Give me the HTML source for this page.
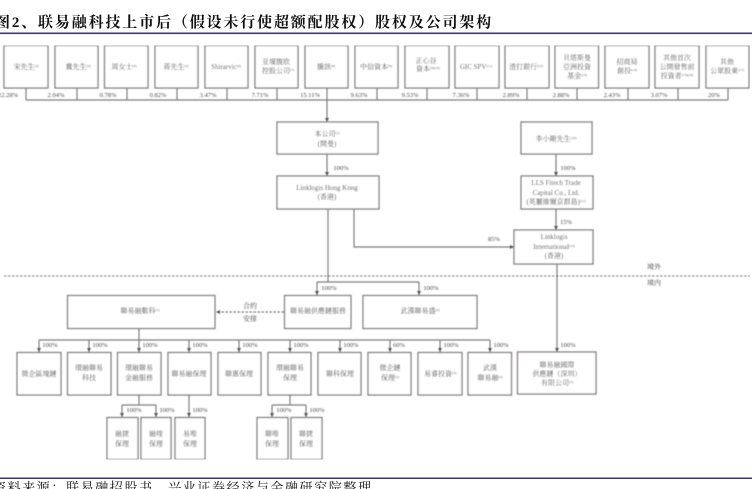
<!DOCTYPE html>
<html><head><meta charset="utf-8"><style>
html,body{margin:0;padding:0;background:#fff;width:752px;height:489px;overflow:hidden}
svg{display:block}
text{font-family:"Liberation Serif","Noto Serif CJK SC",serif;font-size:7px;fill:#4a4a4a;text-anchor:middle}
.p{font-size:6.5px;fill:#4a4a4a}
.s{font-size:3.5px}
.b rect{fill:#fff;stroke:#807c7c;stroke-width:1.3}
.l{fill:none;stroke:#807c7c;stroke-width:1.2}
.d{filter:url(#bl)}
</style></head><body>
<svg width="752" height="489" viewBox="0 0 752 489" xmlns="http://www.w3.org/2000/svg">
<defs>
<filter id="bl" x="0" y="0" width="100%" height="100%"><feGaussianBlur stdDeviation="0.45"/></filter>
<marker id="a" markerWidth="5" markerHeight="5" refX="4" refY="2" orient="auto" markerUnits="userSpaceOnUse"><path d="M0 0L4 2L0 4Z" fill="#555"/></marker>
</defs>
<text x="-5" y="27" style="font-size:15px;font-weight:700;fill:#111;text-anchor:start;letter-spacing:1.85px">图2、联易融科技上市后（假设未行使超额配股权）股权及公司架构</text>
<rect x="0" y="32.5" width="752" height="1.6" fill="#3a3a70"/>
<g class="d">
<path class="l" d="M26 88V100M77 88V100M127 88V100M177 88V100M227 88V100M277 88V100M327 88V100M377 88V100M427 88V100M477 88V100M527 88V100M577 88V100M628 88V100M678 88V100M728 88V100M26 100H728"/>
<path class="l" marker-end="url(#a)" d="M327 100V122"/>
<g class="b">
<rect x="4" y="45.5" width="44" height="42.5"/><rect x="55" y="45.5" width="43" height="42.5"/><rect x="104.500" y="45.5" width="43.500" height="42.500"/><rect x="155" y="45.500" width="43" height="42.500"/><rect x="205" y="45.500" width="43" height="42.500"/><rect x="255" y="45.500" width="43" height="42.500"/><rect x="305" y="45.500" width="43" height="42.500"/><rect x="355" y="45.500" width="43" height="42.500"/><rect x="405" y="45.500" width="44" height="42.500"/><rect x="455" y="45.500" width="44" height="42.500"/><rect x="505" y="45.500" width="44" height="42.500"/><rect x="555" y="45.500" width="43.500" height="42.500"/><rect x="605" y="45.500" width="44" height="42.500"/><rect x="655" y="45.500" width="44" height="42.500"/><rect x="706" y="45.500" width="43" height="42.500"/>
</g>
<text x="26" y="69">宋先生<tspan class="s" dy="-2">(2)</tspan></text>
<text x="78" y="69">冀先生<tspan class="s" dy="-2">(3)</tspan></text>
<text x="124" y="69">周女士<tspan class="s" dy="-2">(4)</tspan></text>
<text x="176" y="69">蒋先生<tspan class="s" dy="-2">(5)</tspan></text>
<text x="226" y="69">Shirarvic<tspan class="s" dy="-2">(6)</tspan></text>
<text x="276" y="64">亚堰腹欧</text><text x="278" y="73">控股公司<tspan class="s" dy="-2">(7)</tspan></text>
<text x="326" y="69">騰訊<tspan class="s" dy="-2">(8)</tspan></text>
<text x="376" y="69">中信資本<tspan class="s" dy="-2">(9)</tspan></text>
<text x="426" y="63">正心谷</text><text x="428" y="71">資本<tspan class="s" dy="-2">(9)(10)</tspan></text>
<text x="476" y="69">GIC SPV<tspan class="s" dy="-2">(11)</tspan></text>
<text x="526" y="69">渣打銀行<tspan class="s" dy="-2">(12)</tspan></text>
<text x="577" y="60">貝塔斯曼</text><text x="577" y="69">亞洲投資</text><text x="577" y="78">基金<tspan class="s" dy="-2">(13)</tspan></text>
<text x="627" y="64">招商局</text><text x="627" y="73">創投<tspan class="s" dy="-2">(14)</tspan></text>
<text x="677" y="60">其他首次</text><text x="677" y="69">公開發售前</text><text x="677" y="78">投資者<tspan class="s" dy="-2">(15)(16)</tspan></text>
<text x="727" y="64">其他</text><text x="727" y="73">公眾股東<tspan class="s" dy="-2">(17)</tspan></text>
<text class="p" x="8" y="97">22.28%</text><text class="p" x="56" y="97">2.04%</text><text class="p" x="108" y="97">0.78%</text><text class="p" x="158" y="97">0.82%</text><text class="p" x="208" y="97">3.47%</text><text class="p" x="260" y="97">7.71%</text><text class="p" x="310" y="97">15.11%</text><text class="p" x="359" y="97">9.63%</text><text class="p" x="410" y="97">9.53%</text><text class="p" x="461" y="97">7.36%</text><text class="p" x="511" y="97">2.89%</text><text class="p" x="561" y="97">2.88%</text><text class="p" x="612" y="97">2.43%</text><text class="p" x="659" y="97">3.07%</text><text class="p" x="714" y="97">20%</text>

<path class="l" marker-end="url(#a)" d="M327 154V176"/>
<path class="l" d="M328 209V282M317 282H419"/>
<path class="l" marker-end="url(#a)" d="M317 282V295"/>
<path class="l" marker-end="url(#a)" d="M419 282V295"/>
<path class="l" marker-end="url(#a)" d="M354 209V247H514"/>
<path class="l" marker-end="url(#a)" d="M556 154V176"/>
<path class="l" marker-end="url(#a)" d="M556 209V230"/>
<path class="l" marker-end="url(#a)" d="M557 264V352"/>
<g class="b">
<rect x="277" y="122" width="101" height="32"/><rect x="277" y="176" width="102" height="33"/><rect x="521" y="122" width="71" height="32"/><rect x="521" y="176" width="72" height="33"/><rect x="514" y="230" width="79" height="34"/>
</g>
<text x="327" y="136">本公司<tspan class="s" dy="-2">(1)</tspan></text><text x="327" y="146">(開曼)</text>
<text x="327" y="190">Linklogis Hong Kong</text><text x="327" y="199">(香港)</text>
<text x="556" y="141">李小剛先生<tspan class="s" dy="-2">(18)</tspan></text>
<text x="556" y="185">LLS Fitech Trade</text><text x="556" y="195">Capital Co., Ltd.</text><text x="556" y="204">(英屬維爾京群島)<tspan class="s" dy="-2">(11)</tspan></text>
<text x="554" y="239">Linklogis</text><text x="554" y="249">International<tspan class="s" dy="-2">(14)</tspan></text><text x="554" y="258">(香港)</text>
<text class="p" x="341" y="170">100%</text><text class="p" x="568" y="170">100%</text><text class="p" x="566" y="224">15%</text><text class="p" x="494" y="241">85%</text>
<text class="p" x="329" y="290">100%</text><text class="p" x="431" y="290">100%</text>
<line x1="4" y1="276" x2="750" y2="276" stroke="#555" stroke-width="0.8" stroke-dasharray="2.5 1.5"/>
<text x="654" y="269">境外</text><text x="654" y="285">境内</text>

<g class="b"><rect x="67.500" y="295.500" width="147.500" height="33"/><rect x="284.500" y="295.500" width="66.500" height="33"/><rect x="363" y="295.500" width="114" height="33"/></g>
<text x="140" y="313">聯易融數科<tspan class="s" dy="-2">(1)</tspan></text><text x="318" y="313">聯易融供應鏈服務</text><text x="420" y="313">武漢聯易盛<tspan class="s" dy="-2">(2)</tspan></text>
<path class="l" stroke-dasharray="2.5 1.5" marker-end="url(#a)" d="M284 312H216"/>
<text x="250" y="308">合約</text><text x="250" y="321">安排</text>
<path class="l" d="M139 328V340M39 340H490"/>
<path class="l" marker-end="url(#a)" d="M39 340V352"/><path class="l" marker-end="url(#a)" d="M89 340V352"/><path class="l" marker-end="url(#a)" d="M139 340V352"/><path class="l" marker-end="url(#a)" d="M189 340V352"/><path class="l" marker-end="url(#a)" d="M239 340V352"/><path class="l" marker-end="url(#a)" d="M290 340V352"/><path class="l" marker-end="url(#a)" d="M340 340V352"/><path class="l" marker-end="url(#a)" d="M390 340V352"/><path class="l" marker-end="url(#a)" d="M440 340V352"/><path class="l" marker-end="url(#a)" d="M490 340V352"/>
<g class="b">
<rect x="17" y="352.500" width="44" height="42.500"/><rect x="67.500" y="352.500" width="43.500" height="42.500"/><rect x="117.500" y="352.500" width="43.500" height="42.500"/><rect x="168" y="352.500" width="43" height="42.500"/><rect x="218" y="352.500" width="43" height="42.500"/><rect x="268" y="352.500" width="43" height="42.500"/><rect x="318" y="352.500" width="43" height="42.500"/><rect x="368" y="352.500" width="43" height="42.500"/><rect x="418" y="352.500" width="44" height="42.500"/><rect x="468" y="352.500" width="43.500" height="42.500"/><rect x="517.500" y="352" width="78.500" height="42"/>
</g>
<text x="39" y="376">微企區塊鏈</text>
<text x="89" y="370">環融聯易</text><text x="89" y="380">科技</text>
<text x="139" y="370">環融聯易</text><text x="139" y="380">金融服務</text>
<text x="189" y="376">聯易融保理</text>
<text x="239" y="376">聯惠保理</text>
<text x="290" y="370">環融聯易</text><text x="290" y="380">保理</text>
<text x="340" y="376">聯科保理</text>
<text x="390" y="370">微企鏈</text><text x="390" y="380">保理<tspan class="s" dy="-2">(2)</tspan></text>
<text x="440" y="376">易睿投資<tspan class="s" dy="-2">(3)</tspan></text>
<text x="490" y="370">武漢</text><text x="490" y="380">聯易融<tspan class="s" dy="-2">(4)</tspan></text>
<text x="557" y="367">聯易融國際</text><text x="557" y="376">供應鏈（深圳）</text><text x="557" y="385">有限公司<tspan class="s" dy="-2">(5)</tspan></text>
<text class="p" x="50" y="347">100%</text><text class="p" x="100" y="347">100%</text><text class="p" x="150" y="347">100%</text><text class="p" x="200" y="347">100%</text><text class="p" x="250" y="347">100%</text><text class="p" x="301" y="347">100%</text><text class="p" x="351" y="347">100%</text><text class="p" x="399" y="347">60%</text><text class="p" x="451" y="347">100%</text><text class="p" x="501" y="347">100%</text><text class="p" x="568" y="347">100%</text>

<path class="l" d="M139 395V405M122 405H156M290 395V405M272 405H306"/>
<path class="l" marker-end="url(#a)" d="M122 405V417"/><path class="l" marker-end="url(#a)" d="M156 405V417"/><path class="l" marker-end="url(#a)" d="M189 395V417"/><path class="l" marker-end="url(#a)" d="M272 405V417"/><path class="l" marker-end="url(#a)" d="M306 405V417"/>
<g class="b"><rect x="107" y="417.500" width="31" height="42"/><rect x="141" y="417.500" width="30" height="42"/><rect x="175" y="417.500" width="30" height="42"/><rect x="257" y="417.500" width="31" height="42"/><rect x="291" y="417.500" width="31" height="42"/></g>
<text x="122" y="436">融捷</text><text x="122" y="446">保理</text>
<text x="156" y="436">融喹</text><text x="156" y="446">保理</text>
<text x="190" y="436">易唯</text><text x="190" y="446">保理</text>
<text x="272" y="436">聯唯</text><text x="272" y="446">保理</text>
<text x="306" y="436">聯捷</text><text x="306" y="446">保理</text>
<text class="p" x="134" y="412">100%</text><text class="p" x="167" y="412">100%</text><text class="p" x="200" y="412">100%</text><text class="p" x="284" y="412">100%</text><text class="p" x="317" y="412">100%</text>
</g>
<rect x="0" y="477.500" width="752" height="1.500" fill="#3a3a70"/>
<text x="-7" y="492" style="font-size:13px;fill:#111;text-anchor:start;letter-spacing:1.600px">资料来源：联易融招股书，兴业证券经济与金融研究院整理</text>
</svg>
</body></html>
